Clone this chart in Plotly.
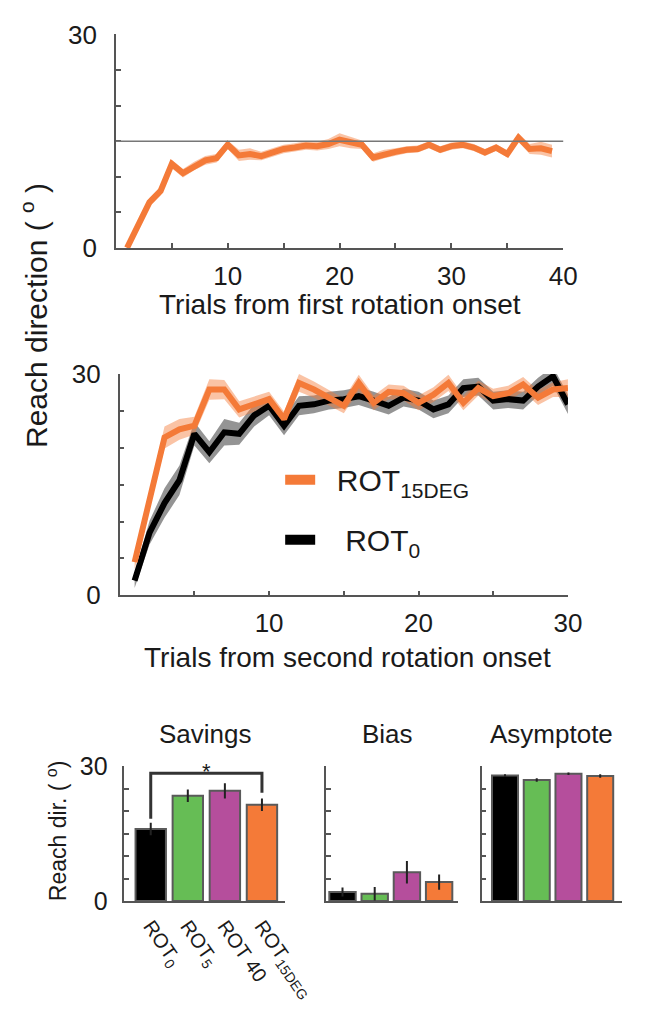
import plotly.graph_objects as go

# ---------------- data ----------------
trials1 = list(range(1, 40))
rot15_first = [0.0, 3.0, 6.4, 8.0, 11.8, 10.5, 11.5, 12.3, 12.6, 14.5, 13.0, 13.2, 12.9, 13.4,
               13.9, 14.1, 14.4, 14.3, 14.6, 15.2, 14.8, 14.5, 12.7, 13.2, 13.5, 13.8, 13.9,
               14.5, 13.8, 14.3, 14.5, 14.1, 13.4, 14.1, 13.2, 15.5, 13.9, 14.0, 13.6]
rot15_first_sem = [0.2, 0.5, 0.6, 0.6, 0.6, 0.6, 0.6, 0.6, 0.6, 0.6, 0.8, 0.8, 0.6, 0.6,
                   0.6, 0.6, 0.6, 0.6, 0.7, 0.9, 0.8, 0.6, 0.6, 0.6, 0.5, 0.5, 0.5,
                   0.5, 0.5, 0.5, 0.5, 0.5, 0.5, 0.5, 0.5, 0.6, 0.7, 0.9, 0.9]
target_first = 15

trials2 = list(range(1, 31))
rot15_second = [4.5, 13.0, 21.4, 22.5, 23.0, 27.9, 27.9, 25.2, 25.9, 26.6, 23.9, 28.8, 27.9, 26.8,
                25.7, 28.8, 26.1, 27.6, 27.4, 26.1, 27.2, 28.8, 26.1, 28.1, 27.0, 27.4, 28.6,
                26.8, 27.9, 28.1]
rot15_second_sem = [1.0, 1.2, 1.5, 1.4, 1.2, 1.4, 1.3, 1.1, 1.0, 1.0, 1.0, 1.2, 1.1, 1.0,
                    1.0, 1.1, 1.0, 1.0, 1.0, 1.0, 1.0, 1.1, 1.0, 1.0, 1.0, 1.0, 1.0,
                    1.0, 1.0, 1.2]
rot0_second = [2.0, 8.5, 12.5, 15.6, 21.9, 19.4, 22.1, 21.9, 24.4, 25.7, 23.0, 25.7, 25.9, 26.4,
               26.6, 27.0, 26.4, 25.7, 26.8, 26.4, 25.2, 25.9, 28.1, 28.3, 26.4, 26.6, 26.4,
               28.3, 29.7, 25.9]
rot0_second_sem = [1.0, 1.6, 2.0, 2.0, 1.6, 1.5, 1.8, 1.5, 1.5, 1.3, 1.3, 1.3, 1.2, 1.2,
                   1.2, 1.2, 1.2, 1.2, 1.2, 1.2, 1.2, 1.2, 1.2, 1.2, 1.2, 1.2, 1.2,
                   1.2, 1.3, 1.3]

groups = ["ROT<sub>0</sub>", "ROT<sub>5</sub>", "ROT 40", "ROT<sub>15DEG</sub>"]
group_idx = [0, 1, 2, 3]
savings = [16.0, 23.4, 24.5, 21.4]
savings_sem = [1.4, 1.4, 1.7, 1.4]
bias = [2.0, 1.6, 6.4, 4.2]
bias_sem = [1.0, 1.5, 2.5, 1.7]
asymptote = [27.9, 26.9, 28.3, 27.8]
asymptote_sem = [0.3, 0.4, 0.3, 0.4]

bracket_top = 28.4
bracket_leg_left = 18.3
bracket_leg_right = 24.1
bracket_pair = (0, 3)

# ---------------- style ----------------
FONT = "Liberation Sans, Arial, sans-serif"
TXT = "#1a1a1a"
ORANGE = "#F47A38"
ORANGE_BAND = "rgba(244,122,56,0.45)"
BLACK = "#000000"
BLACK_BAND = "rgba(0,0,0,0.42)"
GREEN = "#66BD55"
MAGENTA = "#B54E9C"
bar_colors = [BLACK, GREEN, MAGENTA, ORANGE]
AX = "#555555"
NB = "\u00a0"

W, H = 657, 1014


def px_x(a, b):
    return [a / W, b / W]


def px_y(top, bottom):
    return [1 - bottom / H, 1 - top / H]


fig = go.Figure()


def band(x, m, s, color, xa, ya):
    up = [v + e for v, e in zip(m, s)]
    lo = [v - e for v, e in zip(m, s)]
    fig.add_trace(go.Scatter(x=list(x) + list(x)[::-1], y=up + lo[::-1], fill="toself",
                             fillcolor=color, line=dict(width=0), mode="lines",
                             hoverinfo="skip", showlegend=False, xaxis=xa, yaxis=ya))


# panel 1
band(trials1, rot15_first, rot15_first_sem, ORANGE_BAND, "x", "y")
fig.add_trace(go.Scatter(x=trials1, y=rot15_first, mode="lines", line=dict(color=ORANGE, width=6),
                         showlegend=False, xaxis="x", yaxis="y"))

# panel 2
band(trials2, rot0_second, rot0_second_sem, BLACK_BAND, "x2", "y2")
band(trials2, rot15_second, rot15_second_sem, ORANGE_BAND, "x2", "y2")
fig.add_trace(go.Scatter(x=trials2, y=rot0_second, mode="lines", line=dict(color=BLACK, width=6),
                         showlegend=False, xaxis="x2", yaxis="y2"))
fig.add_trace(go.Scatter(x=trials2, y=rot15_second, mode="lines", line=dict(color=ORANGE, width=6),
                         showlegend=False, xaxis="x2", yaxis="y2"))

# legend entries (thick swatches as in the original key)
fig.add_trace(go.Scatter(x=[None], y=[None], mode="lines", line=dict(color=ORANGE, width=12),
                         name=NB * 2 + "ROT<sub>15DEG</sub>", legendgroup="a", legendrank=1,
                         xaxis="x2", yaxis="y2"))
fig.add_trace(go.Scatter(x=[None], y=[None], mode="lines", line=dict(color=BLACK, width=12),
                         name=NB * 3 + "ROT<sub>0</sub>", legendgroup="b", legendrank=2,
                         xaxis="x2", yaxis="y2"))

# bar panels
for vals, sems, xa, ya in [(savings, savings_sem, "x3", "y3"),
                           (bias, bias_sem, "x4", "y4"),
                           (asymptote, asymptote_sem, "x5", "y5")]:
    fig.add_trace(go.Bar(x=group_idx, y=vals, width=0.82,
                         marker=dict(color=bar_colors, line=dict(color="#5a5a5a", width=2)),
                         error_y=dict(type="data", array=sems, color="#222222", thickness=2, width=0),
                         showlegend=False, xaxis=xa, yaxis=ya))

# ---------------- axes ----------------
tick_font = dict(family=FONT, size=26, color=TXT)
ycommon = dict(range=[0, 30], showline=True, linecolor=AX, linewidth=1.5, ticks="inside",
               ticklen=5, tickcolor=AX, tickwidth=1.5, showgrid=False, zeroline=False,
               tickvals=[0, 5, 10, 15, 20, 25, 30], tickfont=tick_font, ticklabelstandoff=12)
xcommon = dict(showline=True, linecolor=AX, linewidth=1.5, ticks="inside", ticklen=5,
               tickcolor=AX, tickwidth=1.5, showgrid=False, zeroline=False, tickfont=tick_font,
               ticklabelstandoff=4)

fig.update_layout(
    xaxis=dict(xcommon, domain=px_x(122, 593), range=[0, 40], anchor="y",
               tickvals=[0, 5, 10, 15, 20, 25, 30, 35, 40],
               ticktext=["", "", "10", "", "20", "", "30", "", "40"]),
    yaxis=dict(ycommon, domain=px_y(20, 240), anchor="x",
               ticktext=["0", "", "", "", "", "", "30"]),
    xaxis2=dict(xcommon, domain=px_x(126, 598), range=[0, 30], anchor="y2",
                tickvals=[0, 5, 10, 15, 20, 25, 30],
                ticktext=["", "", "10", "", "20", "", "30"]),
    yaxis2=dict(ycommon, domain=px_y(370, 598), anchor="x2",
                ticktext=["0", "", "", "", "", "", "30"]),
    xaxis3=dict(xcommon, domain=px_x(131, 300), range=[-0.71, 3.62], anchor="y3",
                tickvals=group_idx, ticktext=groups, ticks="", tickangle=55,
                tickfont=dict(family=FONT, size=20, color=TXT), ticklabelstandoff=4),
    yaxis3=dict(ycommon, domain=px_y(774, 913), anchor="x3",
                ticktext=["0", "", "", "", "", "", "30"],
                tickfont=dict(family=FONT, size=25, color=TXT), ticklabelstandoff=10),
    xaxis4=dict(xcommon, domain=px_x(343, 482), range=[-0.52, 3.58], anchor="y4",
                tickvals=group_idx, ticktext=["", "", "", ""], ticks=""),
    yaxis4=dict(ycommon, domain=px_y(774, 913), anchor="x4", ticktext=[""] * 7),
    xaxis5=dict(xcommon, domain=px_x(507, 655), range=[-0.74, 3.69], anchor="y5",
                tickvals=group_idx, ticktext=["", "", "", ""], ticks=""),
    yaxis5=dict(ycommon, domain=px_y(774, 913), anchor="x5", ticktext=[""] * 7),
)

# reference line at the first-rotation target
fig.add_shape(type="line", xref="x domain", yref="y", x0=0, x1=1, y0=target_first, y1=target_first,
              line=dict(color="#777777", width=1.5))

# significance bracket
i0, i1 = bracket_pair
fig.add_shape(type="path", xref="x3", yref="y3",
              path=f"M {i0},{bracket_leg_left} L {i0},{bracket_top} L {i1},{bracket_top} L {i1},{bracket_leg_right}",
              line=dict(color="#333333", width=3))
fig.add_annotation(xref="x3", yref="y3", x=(i0 + i1) / 2, y=bracket_top, text="*", showarrow=False,
                   yanchor="middle", yshift=2, font=dict(family=FONT, size=22, color=TXT))

# texts
def txt(text, x, y, size, angle=0):
    fig.add_annotation(xref="paper", yref="paper", x=x / W, y=1 - y / H, text=text, showarrow=False,
                       textangle=angle, xanchor="center", yanchor="middle",
                       font=dict(family=FONT, size=size, color=TXT))


txt("Trials from first rotation onset", 358, 298, 28)
txt("Trials from second rotation onset", 366, 662, 28)
txt("Reach direction ( <sup>o</sup> )", 36, 310, 30, -90)
txt("Reach dir. ( <sup>o</sup>)", 60, 840, 23, -90)
txt("Savings", 216, 741, 26)
txt("Bias", 408, 741, 26)
txt("Asymptote", 581, 741, 26)

fig.update_layout(
    width=W, height=H, margin=dict(l=0, r=0, t=0, b=0),
    paper_bgcolor="white", plot_bgcolor="white",
    font=dict(family=FONT, color=TXT),
    bargap=0.18,
    showlegend=True,
    legend=dict(x=295 / W, y=1 - 452 / H, xanchor="left", yanchor="top",
                bgcolor="rgba(0,0,0,0)", font=dict(family=FONT, size=30, color=TXT),
                itemwidth=30, tracegroupgap=18, traceorder="grouped"),
)

fig.write_html("out.html")
